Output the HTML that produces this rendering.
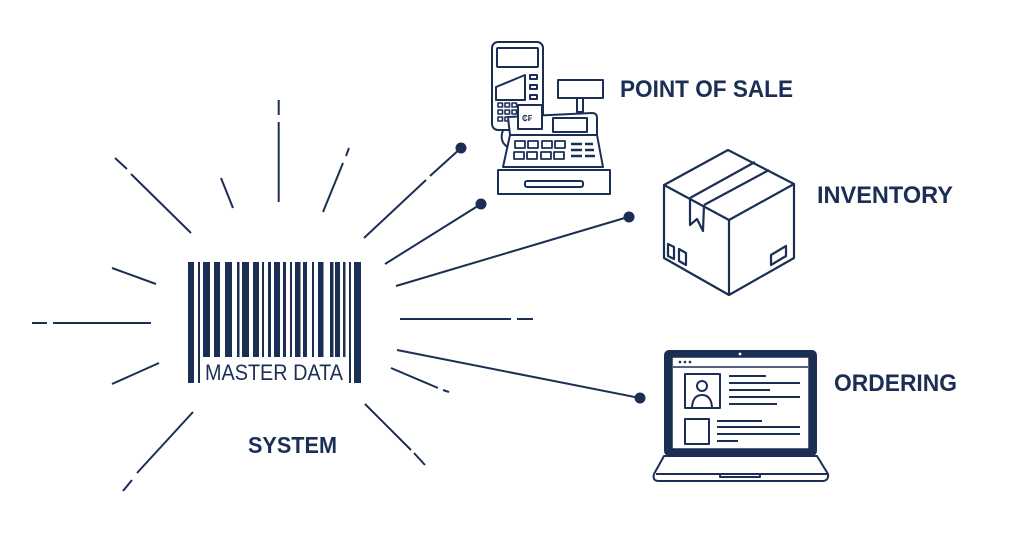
<!DOCTYPE html>
<html><head><meta charset="utf-8"><style>
html,body{margin:0;padding:0;background:#fff;}
svg{display:block;}
text{font-family:"Liberation Sans",sans-serif;fill:#1b2f55;}
</style></head><body>
<svg width="1024" height="559" viewBox="0 0 1024 559" xmlns="http://www.w3.org/2000/svg">
<g stroke="#1b2f55" stroke-width="2" fill="none" stroke-linecap="butt">
<!-- rays -->
<line x1="278.7" y1="100" x2="278.7" y2="115"/>
<line x1="278.7" y1="122" x2="278.7" y2="202"/>
<line x1="115" y1="158" x2="127" y2="169"/>
<line x1="131" y1="174" x2="191" y2="233"/>
<line x1="221" y1="178" x2="233" y2="208"/>
<line x1="349" y1="148" x2="346" y2="156"/>
<line x1="343" y1="163" x2="323" y2="212"/>
<line x1="112" y1="268" x2="156" y2="284"/>
<line x1="32" y1="323" x2="47" y2="323"/>
<line x1="53" y1="323" x2="151" y2="323"/>
<line x1="112" y1="384" x2="159" y2="363"/>
<line x1="193" y1="412" x2="137" y2="473"/>
<line x1="132" y1="480" x2="123" y2="491"/>
<line x1="365" y1="404" x2="411" y2="450"/>
<line x1="414" y1="453" x2="425" y2="465"/>
<line x1="400" y1="319" x2="511" y2="319"/>
<line x1="517" y1="319" x2="533" y2="319"/>
<line x1="391" y1="368" x2="438" y2="388"/>
<line x1="443" y1="390" x2="449" y2="392"/>
<!-- connectors -->
<line x1="364" y1="238" x2="426" y2="180"/>
<line x1="430" y1="176" x2="461" y2="148"/>
<line x1="385" y1="264" x2="481" y2="204"/>
<line x1="396" y1="286" x2="628" y2="217"/>
<line x1="397" y1="350" x2="640" y2="398"/>
</g>
<g fill="#1b2f55">
<circle cx="461" cy="148" r="5.5"/>
<circle cx="481" cy="204" r="5.5"/>
<circle cx="629" cy="217" r="5.5"/>
<circle cx="640" cy="398" r="5.5"/>
<!-- barcode -->
<rect x="188" y="262" width="6" height="121"/>
<rect x="198" y="262" width="2" height="121"/>
<rect x="203" y="262" width="7" height="95"/>
<rect x="214" y="262" width="6" height="95"/>
<rect x="225" y="262" width="7" height="95"/>
<rect x="237" y="262" width="2.5" height="95"/>
<rect x="242" y="262" width="7" height="95"/>
<rect x="253" y="262" width="6" height="95"/>
<rect x="262" y="262" width="2" height="95"/>
<rect x="268" y="262" width="3" height="95"/>
<rect x="274" y="262" width="6" height="95"/>
<rect x="283" y="262" width="3" height="95"/>
<rect x="290" y="262" width="2" height="95"/>
<rect x="295" y="262" width="5.5" height="95"/>
<rect x="303" y="262" width="4" height="95"/>
<rect x="312" y="262" width="2" height="95"/>
<rect x="318" y="262" width="5.5" height="95"/>
<rect x="330" y="262" width="3.5" height="95"/>
<rect x="335" y="262" width="5" height="95"/>
<rect x="343" y="262" width="2.5" height="95"/>
<rect x="349" y="262" width="2" height="121"/>
<rect x="354" y="262" width="7" height="121"/>
</g>
<text x="205" y="380" font-size="22" textLength="138" lengthAdjust="spacingAndGlyphs">MASTER DATA</text>
<text x="248" y="453" font-size="23" font-weight="bold" textLength="89" lengthAdjust="spacingAndGlyphs">SYSTEM</text>
<text x="620" y="97" font-size="24" font-weight="bold" textLength="173" lengthAdjust="spacingAndGlyphs">POINT OF SALE</text>
<text x="817" y="203" font-size="24" font-weight="bold" textLength="136" lengthAdjust="spacingAndGlyphs">INVENTORY</text>
<text x="834" y="391" font-size="24" font-weight="bold" textLength="123" lengthAdjust="spacingAndGlyphs">ORDERING</text>

<!-- POS -->
<g stroke="#1b2f55" stroke-width="2" fill="none" stroke-linejoin="round">
<rect x="492" y="42" width="51" height="88" rx="6" fill="#fff"/>
<rect x="497" y="48" width="41" height="19" rx="1"/>
<path d="M496 87 L525 75 L525 100 L496 100 Z"/>
<rect x="530" y="75" width="7" height="4"/>
<rect x="530" y="85" width="7" height="4"/>
<rect x="530" y="95" width="7" height="4"/>
<g stroke-width="1.6">
<rect x="498" y="103" width="4.5" height="4"/><rect x="505" y="103" width="4.5" height="4"/><rect x="512" y="103" width="4.5" height="4"/>
<rect x="498" y="110" width="4.5" height="4"/><rect x="505" y="110" width="4.5" height="4"/><rect x="512" y="110" width="4.5" height="4"/>
<rect x="498" y="117" width="4.5" height="4"/><rect x="505" y="117" width="4.5" height="4"/>
</g>
<path d="M503 130 C500 138 502 145 510 148"/>
<rect x="558" y="80" width="45" height="18"/>
<rect x="577" y="98" width="6" height="14"/>
<path d="M508 117 L592 113 Q597 113 597 118 L597 135 L603 167 L503 167 L510 135 Z" fill="#fff"/>
<line x1="510" y1="135" x2="597" y2="135"/>
<rect x="553" y="118" width="34" height="14"/>
<rect x="518" y="105" width="24" height="24" fill="#fff"/>
<g stroke-width="1.8">
<rect x="515" y="141" width="10" height="7"/><rect x="528" y="141" width="10" height="7"/><rect x="542" y="141" width="10" height="7"/><rect x="555" y="141" width="10" height="7"/>
<rect x="514" y="152" width="10" height="7"/><rect x="527" y="152" width="10" height="7"/><rect x="541" y="152" width="10" height="7"/><rect x="554" y="152" width="10" height="7"/>
</g>
<g stroke-width="2.5">
<line x1="571" y1="144" x2="582" y2="144"/><line x1="585" y1="144" x2="593" y2="144"/>
<line x1="571" y1="150" x2="582" y2="150"/><line x1="585" y1="150" x2="594" y2="150"/>
<line x1="571" y1="156" x2="582" y2="156"/><line x1="585" y1="156" x2="595" y2="156"/>
</g>
<rect x="498" y="170" width="112" height="24"/>
<rect x="525" y="181" width="58" height="6" rx="2"/>
</g>
<text x="522" y="121" font-size="8" font-weight="bold" style="fill:#1b2f55">₵₣</text>

<!-- Box -->
<g stroke="#1b2f55" stroke-width="2.2" fill="none" stroke-linejoin="round">
<path d="M728 150 L794 184 L794 258 L729 295 L664 258 L664 185 Z"/>
<path d="M664 185 L729 220 L794 184"/>
<line x1="729" y1="220" x2="729" y2="295"/>
<line x1="690" y1="198" x2="755" y2="162"/>
<line x1="704" y1="205" x2="769" y2="170"/>
<path d="M690 198 L690 225 L697 219 L703 231 L704 205"/>
<path d="M668 244 L674 247 L674 259 L668 256 Z"/>
<path d="M679 249 L686 253 L686 265 L679 261 Z"/>
<path d="M771 255 L786 246 L786 256 L771 265 Z"/>
</g>

<!-- Laptop -->
<g fill="#1b2f55">
<rect x="664" y="350" width="153" height="106" rx="5"/>
</g>
<rect x="672" y="357" width="137" height="92" fill="#fff" stroke="#1b2f55" stroke-width="1.5"/>
<g fill="#1b2f55">
<circle cx="740" cy="354" r="1.4" fill="#fff"/>
<circle cx="680" cy="362" r="1.3"/><circle cx="685" cy="362" r="1.3"/><circle cx="690" cy="362" r="1.3"/>
</g>
<g stroke="#1b2f55" stroke-width="2" fill="none" stroke-linejoin="round">
<line x1="673" y1="367" x2="808" y2="367" stroke-width="1.5"/>
<rect x="685" y="374" width="35" height="34"/>
<circle cx="702" cy="386" r="5"/>
<path d="M692 407 Q693 395 702 395 Q711 395 712 407"/>
<line x1="729" y1="376" x2="766" y2="376"/>
<line x1="729" y1="383" x2="800" y2="383"/>
<line x1="729" y1="390" x2="770" y2="390"/>
<line x1="729" y1="397" x2="800" y2="397"/>
<line x1="729" y1="404" x2="777" y2="404"/>
<rect x="685" y="419" width="24" height="25"/>
<line x1="717" y1="421" x2="762" y2="421"/>
<line x1="717" y1="427" x2="800" y2="427"/>
<line x1="717" y1="434" x2="800" y2="434"/>
<line x1="717" y1="441" x2="738" y2="441"/>
<path d="M664 456 L817 456 L828 474 Q829 481 822 481 L659 481 Q652 481 654 474 Z"/>
<path d="M720 474 L720 477 L760 477 L760 474"/>
<line x1="656" y1="474" x2="827" y2="474"/>
</g>
</svg>
</body></html>
